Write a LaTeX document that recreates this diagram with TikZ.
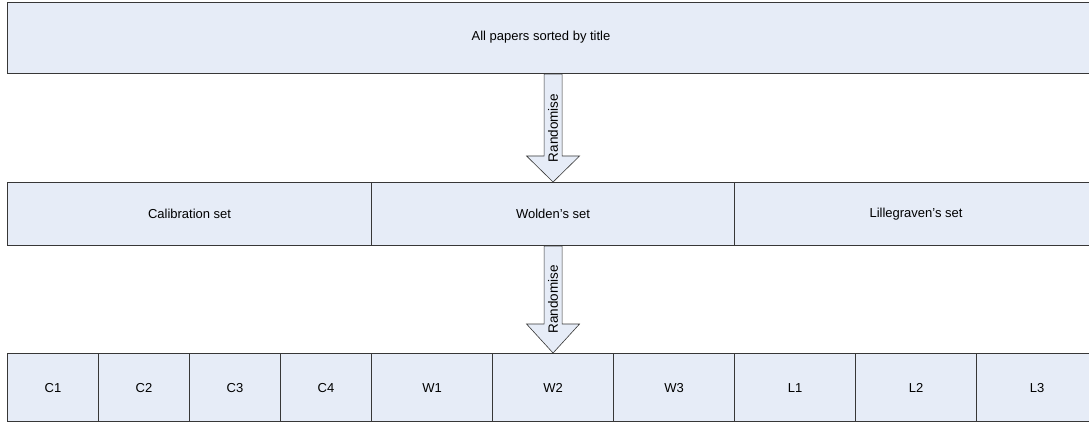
\documentclass[tikz,border=0pt]{standalone}
\usepackage{fontspec}
\setmainfont{Liberation Sans}
\usetikzlibrary{calc}
\definecolor{boxfill}{RGB}{230,236,247}
\definecolor{boxline}{RGB}{55,55,55}
\tikzset{
  x=1pt, y=1pt,
  cell/.style={draw=boxline, fill=boxfill, line width=1.1pt, inner sep=0pt,
    anchor=north west, font=\fontsize{13}{15}\selectfont},
  celltext/.style={inner sep=0pt, font=\fontsize{13}{15}\selectfont},
  blockarrow/.style={draw=boxline, fill=boxfill, line width=0.6pt, line join=miter},
  arrowtext/.style={rotate=90, inner sep=0pt, font=\fontsize{13.5}{15}\selectfont},
}
\begin{document}
\begin{tikzpicture}
\useasboundingbox (0,0) rectangle (1089,421);
\fill[white] (0,0) rectangle (1089,421);

% top level: the whole collection (runs on past the right edge)
\node[cell, minimum width=1200, minimum height=71] (all) at (7,419) {};
\node[celltext] (alltext) at (541,384) {All papers sorted by title};

% middle level: three sets
\node[cell, minimum width=364, minimum height=63] (cal) at (7,239) {Calibration set};
\node[cell, minimum width=363, minimum height=63] (wol) at (371,239) {Wolden’s set};
\node[cell, minimum width=500, minimum height=63] (lil) at (734,239) {\hspace*{-137pt}Lillegraven’s set};

% bottom level: the ten parts
\foreach \nm/\xx in {C1/7, C2/98, C3/189, C4/280}
  \node[cell, minimum width=91, minimum height=68] (\nm) at (\xx,68) {\nm};
\foreach \nm/\xx in {W1/371, W2/492, W3/613, L1/734, L2/855}
  \node[cell, minimum width=121, minimum height=68] (\nm) at (\xx,68) {\nm};
\node[cell, minimum width=200, minimum height=68] (L3) at (976,68) {\hspace*{-79pt}L3};

% block arrows between the levels
\coordinate (a1) at (wol.north |- all.south);
\draw[blockarrow] ($(a1)+(-9,0)$) -- ($(wol.north)+(-9,26)$) -- ($(wol.north)+(-26.5,26)$)
  -- (wol.north) -- ($(wol.north)+(26.5,26)$) -- ($(wol.north)+(9,26)$) -- ($(a1)+(9,0)$) -- cycle;
\node[arrowtext] (r1) at ($(a1)!0.5!(wol.north)$) {Randomise};

\draw[blockarrow] ($(wol.south)+(-9,0)$) -- ($(W2.north)+(-9,29)$) -- ($(W2.north)+(-26.5,29)$)
  -- (W2.north) -- ($(W2.north)+(26.5,29)$) -- ($(W2.north)+(9,29)$) -- ($(wol.south)+(9,0)$) -- cycle;
\node[arrowtext] (r2) at ($(wol.south)!0.5!(W2.north)$) {Randomise};
\end{tikzpicture}
\end{document}
